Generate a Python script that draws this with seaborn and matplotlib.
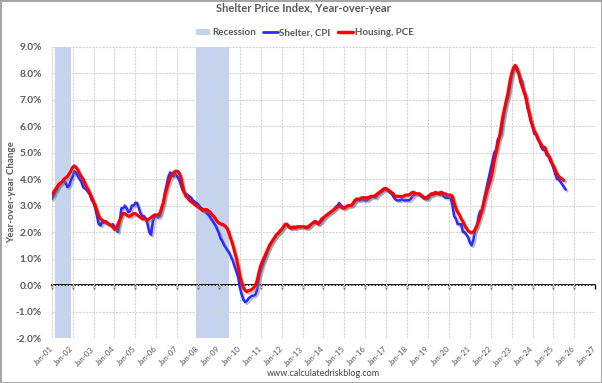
import numpy as np
import pandas as pd
import matplotlib
matplotlib.use("Agg")
import matplotlib.pyplot as plt
import matplotlib.patheffects as pe
from matplotlib.patches import Patch
from matplotlib.lines import Line2D
import seaborn as sns

# === Data: monthly YoY % change, starting Jan 2001 ===
shelter_cpi = [
    3.25, 3.35, 3.5, 3.6, 3.75, 3.8, 3.9, 3.95, 3.85, 3.7, 3.75, 3.95,   # 2001
    4.1, 4.3, 4.25, 4.1, 4.0, 3.9, 3.7, 3.65, 3.6, 3.5, 3.4, 3.2,        # 2002
    3.1, 2.9, 2.6, 2.3, 2.25, 2.4, 2.35, 2.4, 2.3, 2.3, 2.25, 2.3,       # 2003
    2.2, 2.1, 2.0, 2.4, 2.9, 2.9, 3.0, 2.9, 2.75, 2.8, 3.0, 3.0,         # 2004
    3.1, 3.1, 2.9, 2.7, 2.6, 2.6, 2.5, 2.3, 2.0, 1.9, 2.4, 2.6,          # 2005
    2.6, 2.55, 2.6, 2.8, 3.1, 3.5, 3.8, 4.1, 4.25, 4.2, 4.1, 4.2,        # 2006
    4.1, 4.0, 3.8, 3.6, 3.5, 3.45, 3.4, 3.35, 3.3, 3.2, 3.15, 3.1,       # 2007
    3.05, 2.95, 2.9, 2.85, 2.8, 2.7, 2.65, 2.55, 2.45, 2.35, 2.25, 2.1,  # 2008
    1.95, 1.75, 1.65, 1.5, 1.4, 1.3, 1.2, 1.05, 0.9, 0.7, 0.5, 0.3,      # 2009
    -0.1, -0.35, -0.55, -0.65, -0.6, -0.5, -0.45, -0.4, -0.4, -0.35, -0.15, 0.3,  # 2010
    0.55, 0.75, 0.95, 1.1, 1.3, 1.45, 1.6, 1.7, 1.8, 1.9, 1.95, 2.0,     # 2011
    2.1, 2.2, 2.25, 2.3, 2.25, 2.15, 2.2, 2.15, 2.2, 2.2, 2.2, 2.2,      # 2012
    2.2, 2.2, 2.2, 2.15, 2.2, 2.3, 2.35, 2.4, 2.4, 2.3, 2.35, 2.4,       # 2013
    2.5, 2.6, 2.65, 2.7, 2.75, 2.8, 2.85, 2.95, 3.0, 3.1, 3.0, 2.95,     # 2014
    2.95, 2.95, 3.0, 3.0, 3.0, 3.05, 3.15, 3.2, 3.2, 3.2, 3.25, 3.2,     # 2015
    3.2, 3.2, 3.25, 3.3, 3.35, 3.35, 3.3, 3.4, 3.45, 3.5, 3.55, 3.6,     # 2016
    3.6, 3.55, 3.5, 3.45, 3.35, 3.25, 3.2, 3.2, 3.2, 3.25, 3.2, 3.2,     # 2017
    3.2, 3.2, 3.25, 3.35, 3.4, 3.45, 3.45, 3.4, 3.35, 3.3, 3.25, 3.25,   # 2018
    3.25, 3.35, 3.4, 3.4, 3.45, 3.5, 3.45, 3.4, 3.45, 3.35, 3.3, 3.3,    # 2019
    3.3, 3.3, 3.0, 2.6, 2.5, 2.3, 2.3, 2.3, 2.0, 2.0, 1.9, 1.8,          # 2020
    1.6, 1.5, 1.7, 2.1, 2.2, 2.6, 2.8, 2.8, 3.2, 3.5, 3.8, 4.1,          # 2021
    4.4, 4.7, 5.0, 5.1, 5.5, 5.6, 5.7, 6.2, 6.6, 6.9, 7.1, 7.5,          # 2022
    7.9, 8.1, 8.2, 8.1, 8.0, 7.8, 7.7, 7.3, 7.2, 6.7, 6.5, 6.2,          # 2023
    6.0, 5.7, 5.7, 5.5, 5.4, 5.2, 5.1, 5.2, 4.9, 4.9, 4.7, 4.6,          # 2024
    4.4, 4.2, 4.0, 4.0, 3.9, 3.8, 3.7, 3.6,                              # 2025
]

housing_pce = [
    3.4, 3.5, 3.6, 3.7, 3.8, 3.85, 3.9, 4.0, 4.05, 4.1, 4.2, 4.3,        # 2001
    4.45, 4.5, 4.45, 4.35, 4.2, 4.1, 4.0, 3.85, 3.7, 3.6, 3.45, 3.3,     # 2002
    3.15, 3.0, 2.8, 2.6, 2.5, 2.45, 2.4, 2.4, 2.35, 2.3, 2.25, 2.2,      # 2003
    2.1, 2.15, 2.3, 2.45, 2.6, 2.7, 2.7, 2.65, 2.6, 2.6, 2.65, 2.7,      # 2004
    2.7, 2.65, 2.6, 2.55, 2.5, 2.5, 2.5, 2.45, 2.5, 2.55, 2.6, 2.65,     # 2005
    2.65, 2.65, 2.7, 2.9, 3.1, 3.4, 3.65, 3.85, 4.05, 4.15, 4.25, 4.3,   # 2006
    4.3, 4.25, 4.1, 3.8, 3.5, 3.35, 3.3, 3.2, 3.15, 3.1, 3.05, 3.0,      # 2007
    2.95, 2.9, 2.85, 2.8, 2.85, 2.85, 2.8, 2.75, 2.65, 2.6, 2.5, 2.4,    # 2008
    2.35, 2.3, 2.3, 2.25, 2.2, 2.1, 1.9, 1.7, 1.5, 1.25, 1.0, 0.7,       # 2009
    0.35, 0.1, -0.1, -0.2, -0.25, -0.2, -0.2, -0.15, -0.1, 0.0, 0.2, 0.5,  # 2010
    0.75, 0.9, 1.05, 1.2, 1.35, 1.5, 1.6, 1.7, 1.8, 1.9, 1.95, 2.05,     # 2011
    2.1, 2.2, 2.3, 2.3, 2.2, 2.15, 2.15, 2.2, 2.15, 2.2, 2.2, 2.2,       # 2012
    2.2, 2.2, 2.15, 2.2, 2.25, 2.3, 2.35, 2.4, 2.35, 2.3, 2.4, 2.5,      # 2013
    2.55, 2.6, 2.65, 2.7, 2.75, 2.8, 2.85, 2.9, 2.95, 3.0, 2.95, 2.9,    # 2014
    2.9, 2.95, 3.0, 3.0, 3.0, 3.1, 3.2, 3.25, 3.25, 3.25, 3.3, 3.3,      # 2015
    3.3, 3.3, 3.3, 3.35, 3.35, 3.35, 3.4, 3.45, 3.5, 3.55, 3.6, 3.65,    # 2016
    3.65, 3.6, 3.55, 3.5, 3.45, 3.35, 3.35, 3.35, 3.35, 3.35, 3.35, 3.4, # 2017
    3.4, 3.4, 3.45, 3.5, 3.5, 3.45, 3.45, 3.45, 3.4, 3.35, 3.3, 3.3,     # 2018
    3.35, 3.4, 3.45, 3.45, 3.5, 3.45, 3.45, 3.5, 3.5, 3.45, 3.45, 3.4,   # 2019
    3.4, 3.4, 3.35, 3.1, 2.9, 2.75, 2.65, 2.5, 2.4, 2.25, 2.15, 2.05,    # 2020
    2.0, 1.98, 2.0, 2.1, 2.25, 2.4, 2.6, 2.85, 3.1, 3.35, 3.6, 3.8,      # 2021
    4.0, 4.3, 4.7, 5.0, 5.3, 5.6, 6.0, 6.4, 6.7, 7.0, 7.3, 7.7,          # 2022
    8.0, 8.2, 8.3, 8.2, 8.0, 7.7, 7.5, 7.3, 7.1, 6.8, 6.5, 6.2,          # 2023
    6.0, 5.8, 5.7, 5.55, 5.4, 5.3, 5.2, 5.2, 5.0, 4.9, 4.8, 4.6,         # 2024
    4.5, 4.35, 4.2, 4.1, 4.05, 4.0, 3.95,                                # 2025
]

recession_start = [2001 + 2 / 12, 2007 + 11 / 12]
recession_end = [2001 + 11 / 12, 2009 + 6 / 12]

tick_years = list(range(2001, 2028))
tick_labels = [f"Jan-{y % 100:02d}" for y in tick_years]
y_ticks = list(range(-2, 10))

# === Long-form frame ===
def to_frame(values, name):
    months = pd.date_range("2001-01-01", periods=len(values), freq="MS")
    return pd.DataFrame({
        "year": months.year + (months.month - 1) / 12,
        "value": values,
        "series": name,
    })

df = pd.concat([to_frame(shelter_cpi, "Shelter, CPI"),
                to_frame(housing_pce, "Housing, PCE")], ignore_index=True)

# === Style ===
sns.set_style("white")
plt.rcParams["font.family"] = ["Lato", "DejaVu Sans"]
gray = "#595959"

fig = plt.figure(figsize=(6.02, 3.83), dpi=100)
ax = fig.add_axes([51.7 / 602, 1 - 338 / 383, 543.6 / 602, 291.3 / 383])

# recession bands
for s, e in zip(recession_start, recession_end):
    ax.axvspan(s, e, color="#c5d3ee", lw=0, zorder=0)

sns.lineplot(data=df, x="year", y="value", hue="series",
             palette={"Shelter, CPI": "#2a2aff", "Housing, PCE": "#ff0000"},
             ax=ax, legend=False, zorder=3)

for line, lw in zip(ax.lines, [1.8, 2.2]):
    line.set_linewidth(lw)
    line.set_path_effects([
        pe.SimpleLineShadow(offset=(1.2, -1.2), shadow_color="#7f7f7f", alpha=0.5),
        pe.Normal(),
    ])

# === Axes ===
ax.set_xlim(2001, 2027)
ax.set_ylim(-2, 9)
ax.set_xticks(tick_years)
ax.set_xticklabels(tick_labels, rotation=45, ha="right", va="center",
                   rotation_mode="anchor")
ax.set_yticks(y_ticks)
ax.set_yticklabels([f"{v:.1f}%" for v in y_ticks])
ax.tick_params(axis="x", length=0, pad=7, labelsize=5.8, labelcolor=gray)
ax.tick_params(axis="y", length=0, pad=7, labelsize=7.3, labelcolor=gray)
for lab in ax.get_yticklabels():
    lab.set_fontweight("bold")
ax.grid(True, color="#d4d4d4", lw=0.8, ls=(0, (2, 1)))
ax.set_axisbelow(True)
for sp in ax.spines.values():
    sp.set_visible(False)
ax.set_xlabel("")
ax.set_ylabel("")
fig.text(12 / 602, 1 - 192 / 383, "Year-over-year Change", rotation=90,
         ha="center", va="center", fontsize=7, color=gray, fontweight="bold")

# zero axis line with year ticks
zero_ax = ax.secondary_xaxis(2 / 11)
zero_ax.set_xticks(tick_years)
zero_ax.tick_params(axis="x", direction="out", length=3, width=1,
                    color="black", labelbottom=False)
zero_ax.spines["bottom"].set_color("black")
zero_ax.spines["bottom"].set_linewidth(1.3)

# === Titles, legend, credit ===
fig.text(0.504, 1 - 9 / 383, "Shelter Price Index, Year-over-year",
         ha="center", va="center", fontsize=8, fontweight="bold", color=gray)

handles = [
    Patch(facecolor="#c5d3ee", edgecolor="none"),
    Line2D([], [], color="#2a2aff", lw=2),
    Line2D([], [], color="#ff0000", lw=2.5),
]
leg = fig.legend(handles, ["Recession", "Shelter, CPI", "Housing, PCE"],
                 loc="center", bbox_to_anchor=(0.506, 1 - 32.7 / 383), ncol=3,
                 frameon=False, fontsize=7, handlelength=1.5, handleheight=0.5,
                 handletextpad=0.15, columnspacing=0.8)
for t in leg.get_texts():
    t.set_color(gray)
    t.set_fontweight("bold")

fig.text(323 / 602, 1 - 374 / 383, "www.calculatedriskblog.com",
         ha="center", va="center", fontsize=6.5, color="#404040")

fig.patch.set_edgecolor("#a6a6a6")
fig.patch.set_linewidth(1)
fig.savefig("out.png", dpi=100, edgecolor=fig.get_edgecolor())
